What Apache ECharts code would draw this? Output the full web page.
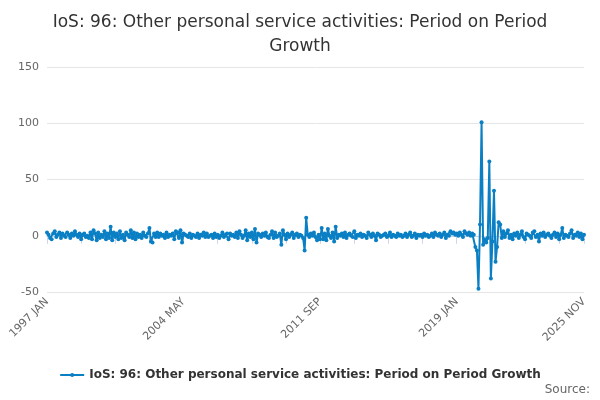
<!DOCTYPE html>
<html>
<head>
<meta charset="utf-8">
<title></title>
<style>
    * { margin: 0; padding: 0; }
    #main { width: 600px; height: 400px; }
</style>
</head>
<body>
<div id="main"></div>
<script src="https://cdn.jsdelivr.net/npm/echarts@6/dist/echarts.min.js"></script>
<script>
    var months = ['JAN', 'FEB', 'MAR', 'APR', 'MAY', 'JUN', 'JUL', 'AUG', 'SEP', 'OCT', 'NOV', 'DEC'];
    var seriesName = 'IoS: 96: Other personal service activities: Period on Period Growth';
    var labelIdx = [0, 88, 176, 264, 346];
    // one row per year, 1997 .. 2025 (to NOV)
    var values = [
        3, 1, -2, -3, 2, 4, -1, 1, 3, -2, 2, 0,
        -1, 3, 1, -2, 2, 0, 4, 1, -1, 2, -3, 1,
        2, -1, 0, -2, 3, -3, 5, 2, -4, 3, -2, 1,
        -1, 4, -3, 2, -2, 8, -4, 3, -1, 2, -3, 4,
        -2, 1, -4, 3, 1, -1, 5, -2, 3, -3, 2, -1,
        1, -2, 3, 0, -1, 2, 7, -5, -6, 2, -1, 3,
        -1, 2, 0, 1, -2, 3, -1, 1, 0, 2, -3, 4,
        3, -2, 5, -6, 2, 1, 0, -1, 2, -2, 1, 0,
        -1, 2, -2, 1, 0, 3, -1, 2, -1, 0, 1, -2,
        2, -1, 1, -2, 0, 3, -1, 1, 2, -3, 2, 0,
        1, -1, 3, -2, 4, 1, -2, 0, 5, -4, 2, -1,
        3, -3, 6, -6, 2, 1, -1, 2, 0, 3, -1, -2,
        1, 4, -2, 3, -1, 0, 2, -8, 5, 1, -3, 2,
        -1, 1, 3, -2, 1, 2, -1, 1, 0, -2, -13, 16,
        1, -1, 2, 0, 3, -1, -4, 1, -3, 7, -3, 2,
        -4, 6, 0, -2, 3, -5, 8, -2, 1, 0, 2, -1,
        3, -2, 1, 2, 0, -1, 4, -2, 1, 0, 2, -1,
        1, 0, -2, 3, 1, -1, 2, 0, -4, 2, 1, -1,
        0, 1, 2, -1, 0, 3, -1, 1, 0, -1, 2, 0,
        1, -1, 0, 2, -1, 1, 3, -1, 0, 2, -2, 1,
        0, 1, -1, 2, 0, 1, -1, 0, 2, -1, 3, 1,
        0, 2, -1, 1, 3, -2, 1, 0, 4, 2, 3, 1,
        2, 0, 3, 1, -1, 4, 2, 1, 3, 0, 2, 1,
        -10, -13, -47, 10, 101, -8, -3, -6, -2, 66, -38, -5,
        40, -23, -10, 12, 10, -2, 4, -1, 2, 5, -2, 1,
        -3, 2, 0, 3, -2, 1, 4, -1, -3, 2, 1, 0,
        -2, 3, 4, -1, 1, -5, 2, 0, 3, -1, 1, 2,
        0, -2, 1, 3, -1, 2, -3, 1, 7, -2, 1, 0,
        -1, 2, 5, -2, 1, 0, 3, -1, 2, -3, 1
    ];
    var categories = [];
    for (var y = 1997; y <= 2025; y++) {
        for (var m = 0; m < 12; m++) {
            if (categories.length < values.length) categories.push(y + ' ' + months[m]);
        }
    }

    var myChart = echarts.init(document.getElementById('main'));
    var option = {
        title: {
            text: 'IoS: 96: Other personal service activities: Period on Period\nGrowth',
            left: 'center',
            top: 6,
            textStyle: { fontFamily: 'DejaVu Sans', fontSize: 17, fontWeight: 'normal', color: '#333', lineHeight: 24 }
        },
        legend: {
            bottom: 14,
            itemWidth: 24,
            itemHeight: 5,
            textStyle: { fontFamily: 'DejaVu Sans', fontSize: 12, fontWeight: 'bold', color: '#333' },
            data: [seriesName]
        },
        graphic: [{
            type: 'text', right: 10, bottom: 4,
            style: { text: 'Source:', font: '12px DejaVu Sans', fill: '#666' }
        }],
        grid: { left: 47, right: 16, top: 67, bottom: 108 },
        xAxis: {
            type: 'category',
            data: categories,
            boundaryGap: false,
            axisLine: { lineStyle: { color: '#ccd6eb' } },
            axisTick: { alignWithLabel: true, length: 8, lineStyle: { color: '#ccd6eb' }, interval: function (i) { return i % 22 === 0 || i === 346; } },
            axisLabel: {
                rotate: 45, color: '#666', fontFamily: 'DejaVu Sans', fontSize: 11,
                interval: function (i) { return labelIdx.indexOf(i) >= 0; }
            }
        },
        yAxis: {
            type: 'value',
            min: -50, max: 150, interval: 50,
            axisLine: { show: false },
            axisTick: { show: false },
            axisLabel: { color: '#666', fontFamily: 'DejaVu Sans', fontSize: 11 },
            splitLine: { lineStyle: { color: '#e6e6e6' } }
        },
        series: [{
            name: seriesName,
            type: 'line',
            data: values,
            symbol: 'circle',
            symbolSize: 4,
            showAllSymbol: true,
            color: '#0a7fc4',
            lineStyle: { width: 2 }
        }]
    };
    myChart.setOption(option);
</script>
</body>
</html>
